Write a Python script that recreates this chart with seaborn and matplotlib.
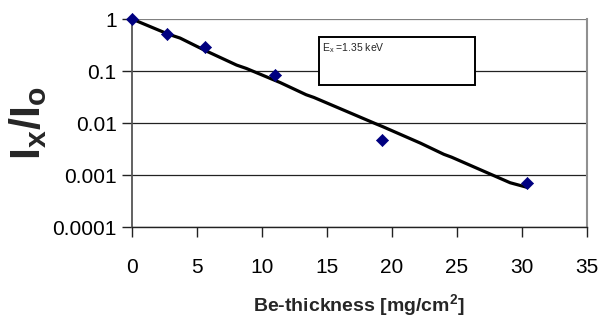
import matplotlib
matplotlib.use("Agg")
import matplotlib.pyplot as plt
import seaborn as sns
import pandas as pd
from matplotlib.patches import Rectangle

# Measured transmission of Be filters
thickness = [0.0, 2.7, 5.6, 11.0, 19.25, 30.4]
ratio = [1.0, 0.515, 0.285, 0.084, 0.0047, 0.00069]

# Calculated transmission curve
fit_thickness = [0.0, 2.8, 3.7, 5.6, 8.05, 8.8, 11.4, 13.4, 14.0, 18.7,
                 19.3, 22.2, 24.0, 24.6, 29.1, 30.4]
fit_ratio = [1.0, 0.51, 0.43, 0.25, 0.13, 0.112, 0.060, 0.035, 0.031,
             0.0098, 0.0085, 0.0041, 0.0025, 0.0022, 0.00071, 0.00058]

x_ticks = [0, 5, 10, 15, 20, 25, 30, 35]
y_ticks = [0.0001, 0.001, 0.01, 0.1, 1]
y_tick_labels = ["0.0001", "0.001", "0.01", "0.1", "1"]

sns.set_theme(style="white")
plt.rcParams["font.family"] = ["Liberation Sans", "DejaVu Sans"]
plt.rcParams["mathtext.fontset"] = "custom"
plt.rcParams["mathtext.bf"] = "Liberation Sans:bold"
plt.rcParams["mathtext.rm"] = "Liberation Sans"

meas = pd.DataFrame({"thickness": thickness, "ratio": ratio})
fit = pd.DataFrame({"thickness": fit_thickness, "ratio": fit_ratio})

fig = plt.figure(figsize=(6.0, 3.2), dpi=100)
ax = fig.add_axes([0.22, 0.2906, 0.758, 0.65])

ax.set_yscale("log")
ax.set_xlim(0, 35)
ax.set_ylim(0.0001, 1)

for y in y_ticks:
    ax.axhline(y, color="#808080" if y == 1 else "#222222", lw=0.9, zorder=1)

sns.lineplot(data=fit, x="thickness", y="ratio", ax=ax, color="black",
             lw=2.3, zorder=3, estimator=None, sort=False)
sns.scatterplot(data=meas, x="thickness", y="ratio", ax=ax, marker="D",
                color="#000080", s=38, edgecolor="#000080", linewidth=0.5,
                zorder=4, clip_on=False)

ax.set_xticks(x_ticks)
ax.set_yticks(y_ticks)
ax.set_yticklabels(y_tick_labels)
ax.minorticks_off()
ax.tick_params(axis="both", which="major", labelsize=15, colors="#222222",
               length=7, width=1, direction="out", left=True, bottom=True)
ax.tick_params(axis="y", pad=4)
ax.tick_params(axis="x", pad=15)
for lbl in ax.get_xticklabels() + ax.get_yticklabels():
    lbl.set_color("black")

ax.spines["top"].set_visible(False)
ax.spines["right"].set_color("#909090")
ax.spines["right"].set_linewidth(1.5)
ax.spines["left"].set_color("#555555")
ax.spines["left"].set_linewidth(1.3)
ax.spines["bottom"].set_color("#222222")
ax.spines["bottom"].set_linewidth(1.0)

ax.set_xlabel("Be-thickness [mg/cm$^{\\mathbf{2}}$]", fontsize=14,
              fontweight="bold")
ax.xaxis.label.set_va("center")
ax.xaxis.set_label_coords(0.5, -0.38)
ax.set_ylabel(r"$\mathbf{I_x/I_o}$", fontsize=31)
ax.yaxis.label.set_va("center")
ax.yaxis.set_label_coords(-0.228, 0.5)

# Energy annotation box
box = Rectangle((0.411, 0.683), 0.343, 0.232, transform=ax.transAxes,
                facecolor="white", edgecolor="black", lw=1.4, zorder=5)
ax.add_patch(box)
ax.text(0.418, 0.895, "E$_\\mathregular{x}$ =1.35 keV", transform=ax.transAxes,
        fontsize=7.5, va="top", ha="left", zorder=6)

fig.savefig("out.png", dpi=100)
